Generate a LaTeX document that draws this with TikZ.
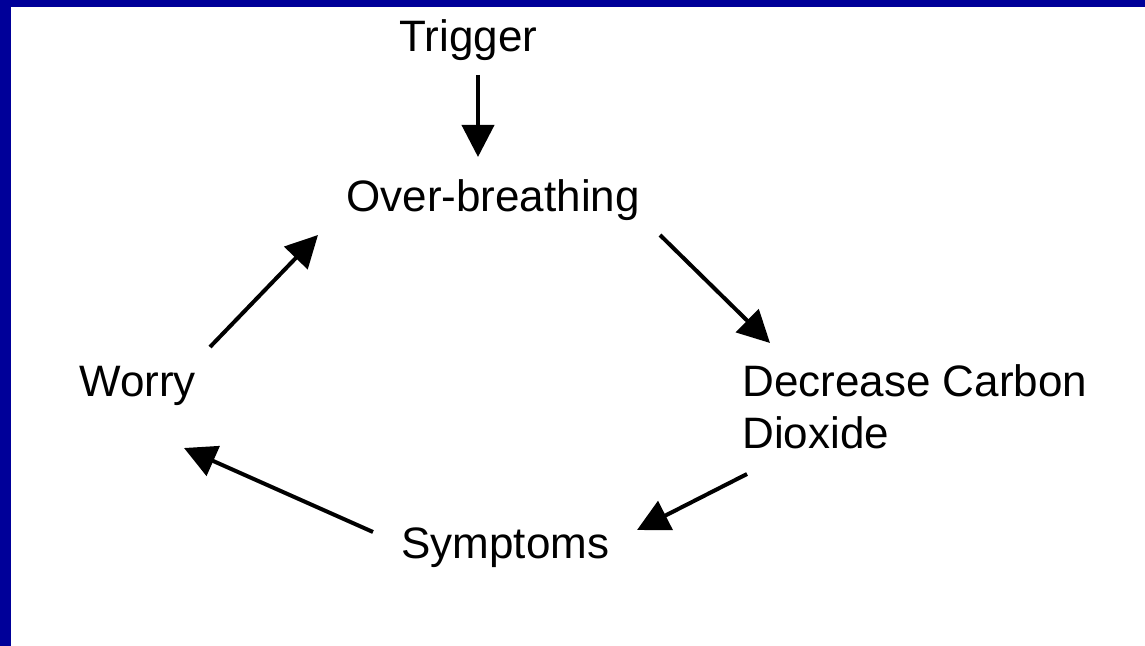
\documentclass[tikz,border=0pt]{standalone}
\usepackage{fontspec}
\setmainfont{Liberation Sans}
\usetikzlibrary{arrows.meta,calc}
\definecolor{frameblue}{RGB}{0,0,153}
\tikzset{
  lbl/.style={inner sep=0pt, anchor=base west, font=\fontsize{22}{26}\selectfont},
  arr/.style={line width=2pt, -{Triangle[width=16pt,length=16pt]}}
}
\begin{document}
\begin{tikzpicture}[x=0.5pt,y=-0.5pt]
\useasboundingbox (0,0) rectangle (1145,646);
\fill[frameblue] (0,0) rectangle (1145,646);
\fill[white] (11,7) rectangle (1145,646);

\node[lbl] (trig) at (399,52) {Trigger};
\node[lbl] (over) at (346,212) {Over-breathing};
\node[lbl] (worry) at (79,397) {Worry};
\node[lbl] (dec) at (742,396) {\vtop{\hbox{Decrease Carbon}\hbox{Dioxide}}};
\node[lbl] (sym) at (401,558) {Symptoms};

\draw[arr] ($(trig.base west)+(79,23)$) -- ($(over.base west)+(132,-55)$);
\draw[arr] ($(over.base west)+(314,23)$) -- ($(dec.base west)+(28,-53)$);
\draw[arr] ($(dec.base west)+(5,78)$) -- ($(sym.base west)+(236,-28)$);
\draw[arr] ($(sym.base west)+(-28,-26)$) -- ($(worry.base west)+(105,51)$);
\draw[arr] ($(worry.base west)+(131,-50)$) -- ($(over.base west)+(-28,23)$);
\end{tikzpicture}
\end{document}
